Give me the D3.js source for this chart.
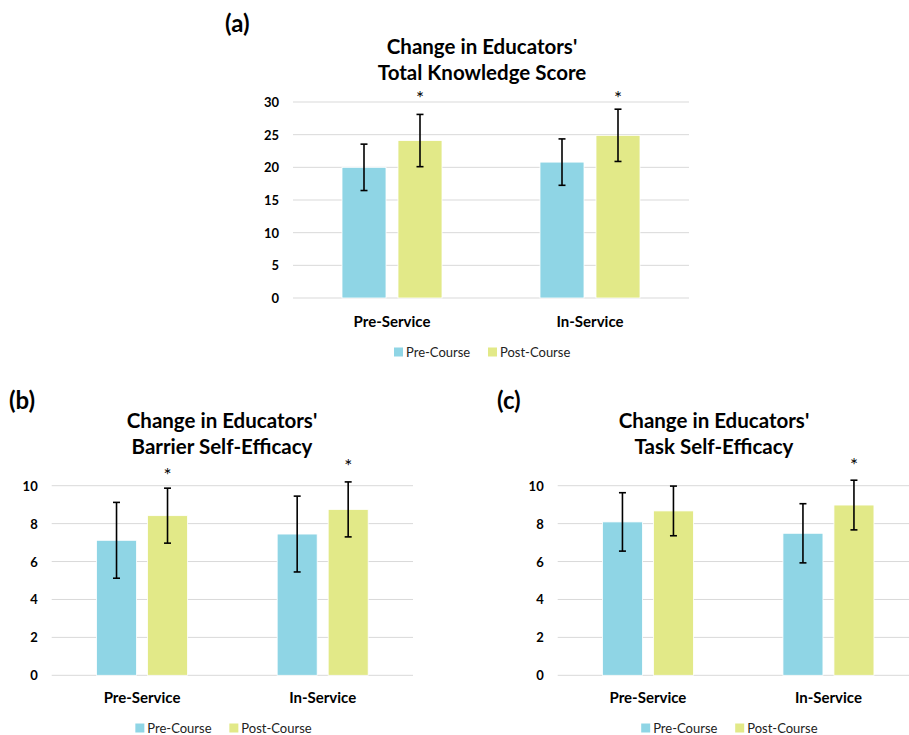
<!DOCTYPE html>
<html>
<head>
<meta charset="utf-8">
<script src="https://cdn.jsdelivr.net/npm/d3@7"></script>
<style>
  body { margin: 0; background: #fff; }
  svg { display: block; font-family: Lato, "Open Sans", sans-serif; }
</style>
</head>
<body>
<svg id="chart" width="909" height="735"></svg>
<script>
// ---- data ----
let groups = ["Pre-Service", "In-Service"];
let series = ["Pre-Course", "Post-Course"];
let colors = ["#8fd5e5", "#e2e988"];

// (a) total knowledge score
let knowMean = [[20.0, 24.1], [20.8, 24.9]];
let knowErr = [[3.55, 4.0], [3.55, 4.0]];
let knowStar = [[null, 30.8], [null, 30.8]];
let knowTicks = [0, 5, 10, 15, 20, 25, 30];

// (b) barrier self-efficacy
let barrierMean = [[7.12, 8.42], [7.45, 8.75]];
let barrierErr = [[2.0, 1.45], [2.0, 1.45]];
let barrierStar = [[null, 10.6], [null, 11.1]];

// (c) task self-efficacy
let taskMean = [[8.09, 8.67], [7.49, 8.98]];
let taskErr = [[1.54, 1.31], [1.56, 1.31]];
let taskStar = [[null, null], [null, 11.15]];

let effTicks = [0, 2, 4, 6, 8, 10];

let svg = d3.select("#chart");

let drawPanel = (p) => {
    let y = d3.scaleLinear().domain([0, p.ymax]).range([p.y0, p.y1]);
    let x0 = d3.scaleBand().domain(groups).range([p.x0, p.x1]);
    let g = svg.append("g");

    // letter + title
    g.append("text").text(p.letter)
        .attr("x", p.letterX).attr("y", p.letterY)
        .style("font-size", "24px").style("font-weight", "bold").attr("fill", "#000");
    p.title.forEach((t, i) => {
        g.append("text").text(t)
            .attr("x", p.titleX).attr("y", p.titleY + i * 26)
            .attr("text-anchor", "middle")
            .style("font-size", "20.5px").style("font-weight", "bold").attr("fill", "#000");
    });

    // gridlines + tick labels
    for (let t of p.ticks) {
        g.append("line")
            .attr("x1", p.x0).attr("x2", p.x1)
            .attr("y1", y(t)).attr("y2", y(t))
            .attr("stroke", "#d9d9d9").attr("stroke-width", 1);
        g.append("text").text(t)
            .attr("x", p.x0 - 14).attr("y", y(t))
            .attr("text-anchor", "end").style("dominant-baseline", "central")
            .style("font-size", "13px").style("font-weight", "bold").attr("fill", "#000");
    }

    // bars
    groups.forEach((grp, gi) => {
        let cx = x0(grp) + x0.bandwidth() / 2;
        g.append("text").text(grp)
            .attr("x", cx).attr("y", p.catY)
            .attr("text-anchor", "middle")
            .style("font-size", "15px").style("font-weight", "bold").attr("fill", "#000");
        series.forEach((s, si) => {
            let bx = si == 0 ? cx - p.gap / 2 - p.barW : cx + p.gap / 2;
            let v = p.mean[gi][si];
            g.append("rect")
                .attr("x", bx).attr("width", p.barW)
                .attr("y", y(v)).attr("height", y(0) - y(v))
                .attr("fill", colors[si])
                .attr("stroke", "#fff").attr("stroke-width", 0.8);
            let ex = bx + p.barW / 2;
            let e = p.err[gi][si];
            g.append("line")
                .attr("x1", ex).attr("x2", ex)
                .attr("y1", y(v + e)).attr("y2", y(v - e))
                .attr("stroke", "#000").attr("stroke-width", 1.6);
            for (let cv of [v + e, v - e]) {
                g.append("line")
                    .attr("x1", ex - 3.5).attr("x2", ex + 3.5)
                    .attr("y1", y(cv)).attr("y2", y(cv))
                    .attr("stroke", "#000").attr("stroke-width", 1.6);
            }
            let st = p.star[gi][si];
            if (st != null) {
                g.append("text").text("*")
                    .attr("x", ex).attr("y", y(st) + 8)
                    .attr("text-anchor", "middle")
                    .style("font-size", "19px").attr("fill", "#000");
            }
        });
    });

    // legend
    let mid = (p.x0 + p.x1) / 2;
    let legX = [mid - 97, mid - 3];
    series.forEach((s, si) => {
        g.append("rect")
            .attr("x", legX[si]).attr("y", p.legY - 4.5)
            .attr("width", 9).attr("height", 9)
            .attr("fill", colors[si]);
        g.append("text").text(s)
            .attr("x", legX[si] + 12).attr("y", p.legY)
            .style("dominant-baseline", "central")
            .style("font-size", "13px").attr("fill", "#222");
    });
};

drawPanel({
    letter: "(a)", letterX: 225, letterY: 32,
    title: ["Change in Educators'", "Total Knowledge Score"], titleX: 482, titleY: 54,
    x0: 293, x1: 689, y0: 298, y1: 102, ymax: 30, ticks: knowTicks,
    barW: 44, gap: 12, catY: 327, legY: 352,
    mean: knowMean, err: knowErr, star: knowStar
});

drawPanel({
    letter: "(b)", letterX: 9, letterY: 409,
    title: ["Change in Educators'", "Barrier Self-Efficacy"], titleX: 222, titleY: 428,
    x0: 51.7, x1: 413, y0: 675.3, y1: 485.7, ymax: 10, ticks: effTicks,
    barW: 40, gap: 11, catY: 703, legY: 728,
    mean: barrierMean, err: barrierErr, star: barrierStar
});

drawPanel({
    letter: "(c)", letterX: 497, letterY: 409,
    title: ["Change in Educators'", "Task Self-Efficacy"], titleX: 714, titleY: 428,
    x0: 557.7, x1: 918.7, y0: 675.3, y1: 485.7, ymax: 10, ticks: effTicks,
    barW: 40, gap: 11, catY: 703, legY: 728,
    mean: taskMean, err: taskErr, star: taskStar
});
</script>
</body>
</html>
